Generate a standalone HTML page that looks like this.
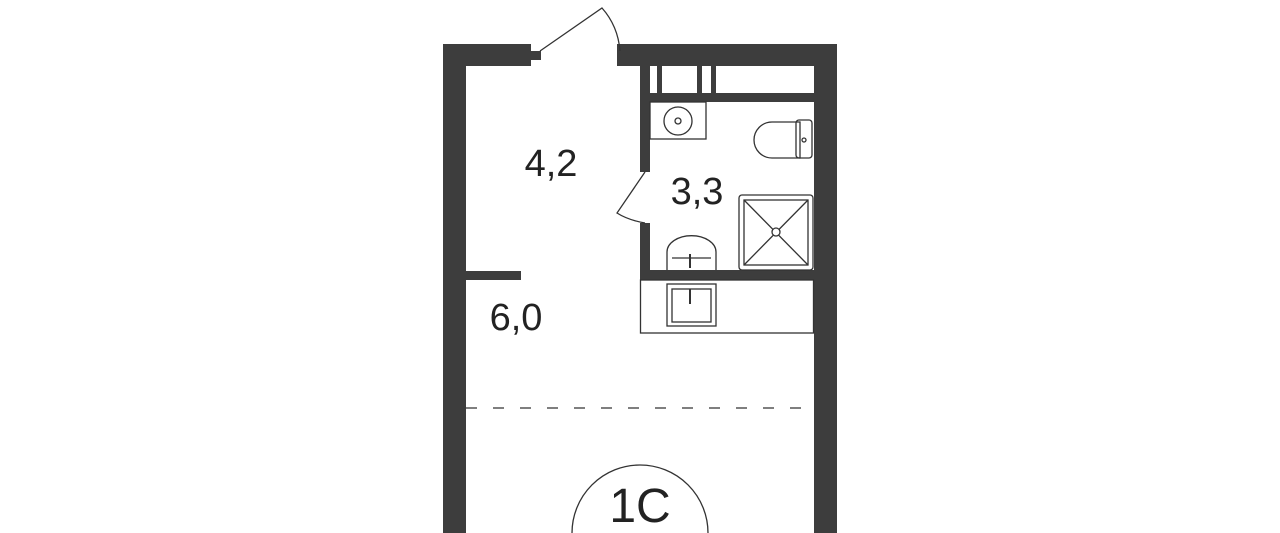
<!DOCTYPE html>
<html><head><style>
html,body{margin:0;padding:0;background:#fff;width:1280px;height:533px;overflow:hidden}
svg{display:block}
</style></head><body>
<svg width="1280" height="533" viewBox="0 0 1280 533" xmlns="http://www.w3.org/2000/svg">
<g fill="#3d3d3d">
<rect x="443" y="44" width="23" height="489"/>
<rect x="443" y="44" width="88" height="22"/>
<rect x="530" y="51" width="11" height="9"/>
<rect x="617" y="44" width="220" height="22"/>
<rect x="617" y="51" width="11" height="9"/>
<rect x="814" y="44" width="23" height="489"/>
<rect x="640" y="66" width="10" height="106"/>
<rect x="640" y="223" width="10" height="56"/>
<rect x="657" y="66" width="5" height="28"/>
<rect x="697" y="66" width="5" height="28"/>
<rect x="711" y="66" width="5" height="28"/>
<rect x="640" y="93" width="174" height="9"/>
<rect x="640" y="270" width="174" height="10"/>
<rect x="466" y="271" width="55" height="9"/>
</g>
<g fill="none" stroke="#333" stroke-width="1.3">
<path d="M540 51 L602 8 Q618 26 620 51"/>
<path d="M645 172 L617 213 Q628 220 645 223"/>
<rect x="640.5" y="280" width="173" height="53"/>
<rect x="667" y="284" width="49" height="42"/>
<rect x="672" y="289" width="39" height="33"/>
<line x1="690" y1="289" x2="690" y2="304" stroke-width="2"/>
<rect x="650" y="102" width="56" height="37"/>
<circle cx="678" cy="121" r="14"/>
<circle cx="678" cy="121" r="3"/>
<path d="M800 122 L772 122 A18 18 0 0 0 772 158 L800 158 Z"/>
<rect x="796" y="120" width="16" height="38" rx="3"/>
<circle cx="804" cy="140" r="2"/>
<rect x="739" y="195" width="74" height="75" rx="3"/>
<rect x="744" y="200" width="64" height="65"/>
<line x1="744" y1="200" x2="808" y2="265"/>
<line x1="808" y1="200" x2="744" y2="265"/>
<circle cx="776" cy="232" r="4" fill="#fff"/>
<path d="M667 270 L667 252 A24 16 0 0 1 716 252 L716 270"/>
<path d="M672 258 L711 258"/>
<line x1="690" y1="254" x2="690" y2="268" stroke-width="2"/>
<line x1="466" y1="408" x2="810" y2="408" stroke-dasharray="11 16"/>
<circle cx="640" cy="533" r="68"/>
</g>
<g font-family="Liberation Sans, sans-serif" fill="#222" text-anchor="middle">
<text x="551" y="176" font-size="38">4,2</text>
<text x="697" y="204" font-size="38">3,3</text>
<text x="516" y="330" font-size="38">6,0</text>
<text x="640" y="522" font-size="48">1C</text>
</g>
</svg>
</body></html>
